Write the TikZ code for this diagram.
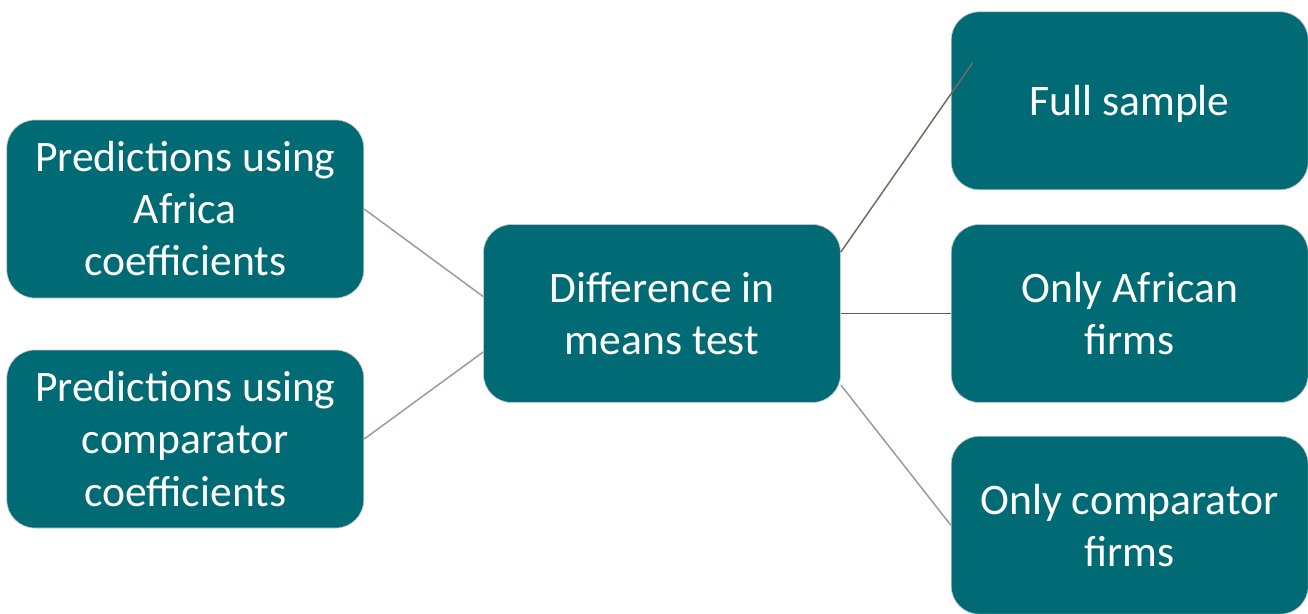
\documentclass[tikz,border=0pt]{standalone}
\usepackage{fontspec}
\setmainfont{Carlito}
\usetikzlibrary{positioning, calc}

\definecolor{boxteal}{HTML}{006B75}
\definecolor{linkgray}{HTML}{A19A92}
\definecolor{linkdark}{HTML}{76695D}
\definecolor{linkbrown}{HTML}{6E5A48}

\tikzset{
  testbox/.style={draw=gray!45, line width=0.4pt, rectangle, rounded corners=16pt,
    fill=boxteal, text=white, align=center, inner sep=0pt,
    minimum width=7.14cm, minimum height=3.56cm,
    font=\fontsize{24.8}{29.6}\selectfont},
  link/.style={draw=linkgray, line width=0.85pt}
}

\begin{document}
\begin{tikzpicture}
  \useasboundingbox (0,0) rectangle (26.16,-12.26);
  \node[testbox] (means) at (13.24,-6.27) {Difference in\\means test};
  \node[testbox] (african) [right=2.2cm of means] {Only African\\firms};
  \node[testbox, text depth=0pt] (full) [above=0.68cm of african] {Full sample};
  \node[testbox] (comparator) [below=0.66cm of african] {Only comparator\\firms};
  \node[testbox] (africa) [left=2.38cm of means, yshift=2.09cm] {Predictions using\\Africa\\coefficients};
  \node[testbox] (compcoef) [left=2.38cm of means, yshift=-2.51cm] {Predictions using\\comparator\\coefficients};
  \coordinate (fullend) at ($(full.north west)+(0.44,-1.02)$);
  \draw[link] (africa.east) -- ($(means.west)+(0,0.34)$);
  \draw[link] (compcoef.east) -- ($(means.west)+(0,-0.77)$);
  \draw[link, draw=linkdark] ($(means.east)+(0,1.23)$) -- (fullend);
  \draw[link, draw=linkbrown] (means.east) -- (african.west);
  \draw[link] ($(means.east)+(0,-1.43)$) -- (comparator.west);
\end{tikzpicture}
\end{document}
